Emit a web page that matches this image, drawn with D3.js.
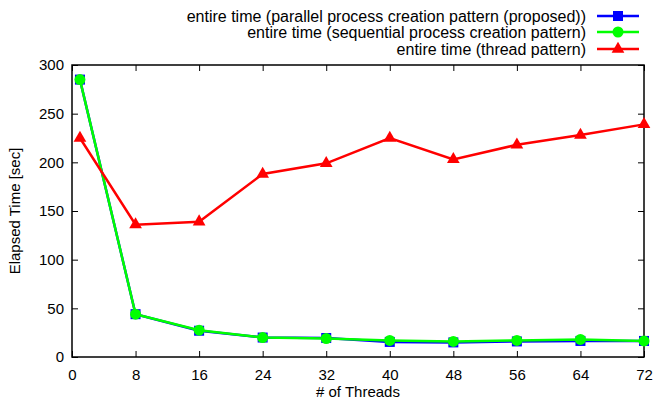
<!DOCTYPE html>
<html>
<head>
<meta charset="utf-8">
<script src="https://cdn.jsdelivr.net/npm/d3@7"></script>
<style>
  body { margin: 0; background: #fff; }
  text { font-family: "Liberation Sans", Arial, sans-serif; fill: #000; }
</style>
</head>
<body>
<div id="chart"></div>
<script>
// thread counts on the x axis
var threads = [1, 8, 16, 24, 32, 40, 48, 56, 64, 72];
// elapsed time [sec] per pattern
var parallelTimes = [285, 44, 27, 20, 19.5, 15.5, 15, 16, 16.5, 16.5];
var sequentialTimes = [285, 44, 27.5, 20, 19, 17, 16, 17, 18, 16.5];
var threadTimes = [225, 136, 139, 188, 199, 225, 203, 218, 228, 239];

var xTicks = [0, 8, 16, 24, 32, 40, 48, 56, 64, 72];
var yTicks = [0, 50, 100, 150, 200, 250, 300];

var series = [
  { name: "entire time (parallel process creation pattern (proposed))", values: parallelTimes, color: "#0000ff", marker: "square" },
  { name: "entire time (sequential process creation pattern)", values: sequentialTimes, color: "#00ff00", marker: "circle" },
  { name: "entire time (thread pattern)", values: threadTimes, color: "#ff0000", marker: "triangle" }
];

var width = 655, height = 399;
var margin = { top: 65, right: 11, bottom: 42, left: 72 };

var svg = d3.select("#chart").append("svg")
  .attr("width", width)
  .attr("height", height);

var x = d3.scaleLinear().domain([0, 72]).range([margin.left, width - margin.right]);
var y = d3.scaleLinear().domain([0, 300]).range([height - margin.bottom, margin.top]);

var tickLen = 6;

// axes with inward ticks, mirrored on top and right
svg.append("g")
  .attr("transform", "translate(0," + y(0) + ")")
  .call(d3.axisBottom(x).tickValues(xTicks).tickSize(-tickLen).tickPadding(12))
  .call(g => g.select(".domain").remove())
  .call(g => g.selectAll("text").attr("font-size", 15));
svg.append("g")
  .attr("transform", "translate(0," + y(300) + ")")
  .call(d3.axisTop(x).tickValues(xTicks).tickSize(-tickLen).tickFormat(""))
  .call(g => g.select(".domain").remove());
svg.append("g")
  .attr("transform", "translate(" + x(0) + ",0)")
  .call(d3.axisLeft(y).tickValues(yTicks).tickSize(-tickLen).tickPadding(8))
  .call(g => g.select(".domain").remove())
  .call(g => g.selectAll("text").attr("font-size", 15));
svg.append("g")
  .attr("transform", "translate(" + x(72) + ",0)")
  .call(d3.axisRight(y).tickValues(yTicks).tickSize(-tickLen).tickFormat(""))
  .call(g => g.select(".domain").remove());

svg.selectAll(".tick line").attr("stroke", "#000").attr("stroke-width", 1);

svg.append("rect")
  .attr("x", x(0)).attr("y", y(300))
  .attr("width", x(72) - x(0)).attr("height", y(0) - y(300))
  .attr("fill", "none").attr("stroke", "#000").attr("stroke-width", 1.5);

// axis titles
svg.append("text")
  .attr("x", (x(0) + x(72)) / 2).attr("y", 397)
  .attr("text-anchor", "middle").attr("font-size", 15)
  .text("# of Threads");
svg.append("text")
  .attr("transform", "translate(20," + ((y(0) + y(300)) / 2) + ") rotate(-90)")
  .attr("text-anchor", "middle").attr("font-size", 15)
  .text("Elapsed Time [sec]");

var line = d3.line().x((d, i) => x(threads[i])).y(d => y(d));

function drawMarker(g, type, cx, cy, color) {
  if (type === "square") {
    g.append("rect").attr("x", cx - 5).attr("y", cy - 5).attr("width", 10).attr("height", 10).attr("fill", color);
  } else if (type === "circle") {
    g.append("circle").attr("cx", cx).attr("cy", cy).attr("r", 5.5).attr("fill", color);
  } else {
    g.append("path").attr("d", d3.symbol().type(d3.symbolTriangle).size(70)()).attr("transform", "translate(" + cx + "," + cy + ")").attr("fill", color);
  }
}

series.forEach(function (s) {
  var g = svg.append("g");
  g.append("path")
    .datum(s.values)
    .attr("d", line)
    .attr("fill", "none")
    .attr("stroke", s.color)
    .attr("stroke-width", 2.5);
  s.values.forEach(function (v, i) {
    drawMarker(g, s.marker, x(threads[i]), y(v), s.color);
  });
});

// legend
var legendRows = [16, 32, 49];
series.forEach(function (s, i) {
  var ly = legendRows[i];
  var g = svg.append("g");
  g.append("text")
    .attr("x", 586).attr("y", ly).attr("dy", "0.35em")
    .attr("text-anchor", "end").attr("font-size", 16)
    .text(s.name);
  g.append("line")
    .attr("x1", 597).attr("x2", 639).attr("y1", ly).attr("y2", ly)
    .attr("stroke", s.color).attr("stroke-width", 2.5);
  drawMarker(g, s.marker, 618, ly, s.color);
});
</script>
</body>
</html>
